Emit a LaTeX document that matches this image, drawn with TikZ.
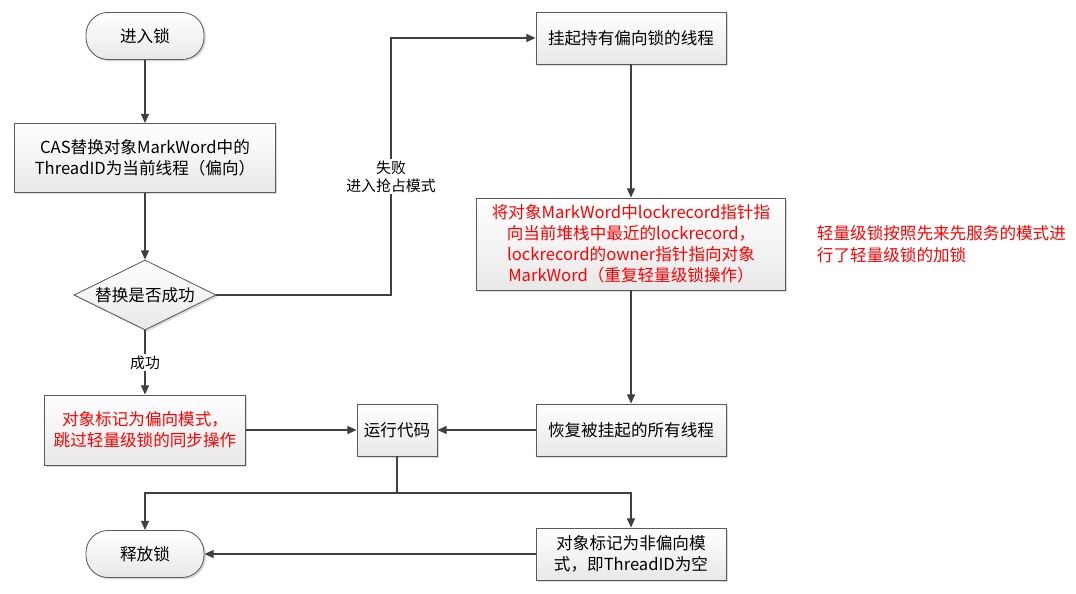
\documentclass[tikz,border=0pt]{standalone}
\usepackage{fontspec}
\setmainfont{Noto Sans CJK SC}
\usetikzlibrary{positioning,shapes.geometric,shadows,arrows.meta}

\definecolor{linegray}{HTML}{404040}
\definecolor{boxgray}{HTML}{5A5A5A}

\tikzset{
  box/.style={draw=boxgray,line width=0.6pt,top color=white,bottom color=black!9,
    drop shadow={shadow xshift=1.3pt,shadow yshift=-1.3pt,opacity=0.3,fill=gray},
    align=center,font=\fontsize{11.8pt}{15pt}\selectfont,inner sep=2pt},
  term/.style={box,rounded corners=0.55cm,minimum width=2.95cm,minimum height=1.175cm},
  decide/.style={box,diamond,shape aspect=2,minimum width=3.55cm,minimum height=1.75cm,inner sep=0pt},
  redtext/.style={text=red},
  arr/.style={draw=linegray,line width=0.85pt,-{Triangle[length=2.3mm,width=2mm]}},
  wire/.style={draw=linegray,line width=0.85pt},
  tag/.style={fill=white,align=center,font=\fontsize{10.6pt}{13pt}\selectfont,inner sep=1pt}
}

\begin{document}
\begin{tikzpicture}[x=0.025cm,y=-0.025cm]
\useasboundingbox (0,0) rectangle (1076,593);

% left column
\path (145,36) node[term] (start) {进入锁};
\path (145,158) node[box,minimum width=6.525cm,minimum height=1.725cm] (cas)
  {CAS替换对象MarkWord中的\\ThreadID为当前线程（偏向）};
\path (145,295) node[decide] (dec) {替换是否成功};
\path (145,430) node[box,redtext,minimum width=5.025cm,minimum height=1.75cm] (bias)
  {对象标记为偏向模式，\\跳过轻量级锁的同步操作};
\path (145,554) node[term] (release) {释放锁};

% middle and right column
\path (397,430) node[box,minimum width=2cm,minimum height=1.3cm] (run) {运行代码};
\path (631,38) node[box,minimum width=4.75cm,minimum height=1.3cm] (suspend) {挂起持有偏向锁的线程};
\path (631,244) node[box,redtext,minimum width=7.725cm,minimum height=2.3cm] (rewrite)
  {将对象MarkWord中lockrecord指针指\\向当前堆栈中最近的lockrecord，\\lockrecord的owner指针指向对象\\MarkWord（重复轻量级锁操作）};
\path (631,430) node[box,minimum width=4.75cm,minimum height=1.3cm] (resume) {恢复被挂起的所有线程};
\path (631,554) node[box,minimum width=4.75cm,minimum height=1.3cm] (unbias)
  {对象标记为非偏向模\\式，即ThreadID为空};

\node[anchor=west,align=left,text=red,font=\fontsize{11.8pt}{15.5pt}\selectfont] (note)
  at (812,244) {轻量级锁按照先来先服务的模式进\\行了轻量级锁的加锁};

% connectors
\coordinate (turn) at (391,295);
\coordinate (split) at (397,493);
\draw[arr] (start) -- (cas);
\draw[arr] (cas) -- (dec);
\draw[arr] (dec.east) -- (turn) |- (suspend.west)
  node[tag,pos=0.23] (fail) {失败\\进入抢占模式};
\draw[arr] (dec.south) -- (bias.north) node[tag,midway] (ok) {成功};
\draw[arr] (suspend) -- (rewrite);
\draw[arr] (rewrite) -- (resume);
\draw[arr] (bias) -- (run);
\draw[arr] (resume) -- (run);
\draw[wire] (run) -- (split);
\draw[arr] (split) -| (release);
\draw[arr] (split) -| (unbias);
\draw[arr] (unbias) -- (release);
\end{tikzpicture}
\end{document}
